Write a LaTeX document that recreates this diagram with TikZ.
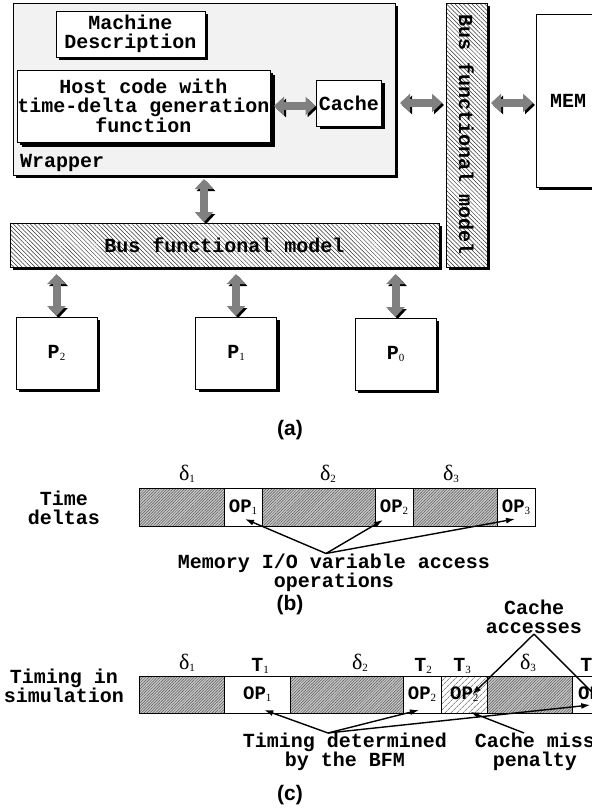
\documentclass[tikz,border=0pt]{standalone}
\usepackage{fontspec}
\setmainfont{Liberation Serif}
\setsansfont{Liberation Sans}
\setmonofont{Liberation Mono}
\usetikzlibrary{positioning}
\usetikzlibrary{arrows.meta}
\usetikzlibrary{shadows}
\usetikzlibrary{patterns.meta}

\newcommand{\monofont}{\ttfamily\bfseries\fontsize{20}{19}\selectfont}
\newcommand{\opfont}{\ttfamily\bfseries\fontsize{19}{19}\selectfont}
\newcommand{\subnum}[1]{\raisebox{-2pt}{\rmfamily\mdseries\fontsize{11}{11}\selectfont #1}}
\newcommand{\dlt}[1]{{\rmfamily\mdseries\fontsize{22}{22}\selectfont δ\subnum{#1}}}

\tikzset{
  box/.style={draw, line width=0.8pt, fill=white, inner sep=0pt, outer sep=0pt,
    font=\monofont, align=center,
    drop shadow={shadow xshift=3pt, shadow yshift=-3pt, opacity=1, fill=black}},
  wrapbox/.style={box, preaction={fill=white},
    pattern={Dots[distance=2pt, radius=0.45pt]}, pattern color=black!60},
  busbox/.style={box, preaction={fill=white},
    pattern={Lines[angle=-45, distance=3pt, line width=0.5pt]}, pattern color=black!80},
  fatarrow/.style={line width=8pt, draw=black!50,
    {Triangle[width=18pt, length=10pt]}-{Triangle[width=18pt, length=10pt]},
    preaction={draw=black, transform canvas={shift={(2pt,-2pt)}}}},
  cell/.style={draw, line width=0.8pt, inner sep=0pt, outer sep=0pt, font=\opfont},
  deltacell/.style={cell, preaction={fill=black!22},
    pattern={Lines[angle=45, distance=2pt, line width=0.5pt]}, pattern color=black!65},
  misscell/.style={cell, preaction={fill=white},
    pattern={Lines[angle=45, distance=4pt, line width=0.5pt]}, pattern color=black!70},
  pointer/.style={-{Latex[length=9pt, width=6pt]}, line width=1.4pt},
  note/.style={font=\monofont, align=center, inner sep=0pt},
  caption/.style={font=\sffamily\bfseries\fontsize{21}{21}\selectfont, inner sep=0pt},
}

\begin{document}
\begin{tikzpicture}[x=1pt, y=-1pt]
\useasboundingbox (0,0) rectangle (592,809);
\clip (0,0) rectangle (592,809);

% (a) the simulation model
\node[wrapbox, minimum width=382pt, minimum height=172pt] (wrapper) at (204,89) {};
\node[box, minimum width=149pt, minimum height=46pt] (machine) at (130.5,34) {Machine\\Description};
\node[box, minimum width=253pt, minimum height=72pt,
  drop shadow={shadow xshift=5pt, shadow yshift=-5pt, opacity=1, fill=black}] (host) at (143.5,106)
  {Host code with\\time-delta generation\\function};
\node[box, minimum width=65pt, minimum height=46pt] (cache) at (349,103) {Cache};
\node[note, anchor=west] (wraplabel) at (20,163) {Wrapper};

\node[busbox, minimum width=41pt, minimum height=264pt] (vbus) at (466.5,135) {};
\node[note, rotate=-90] (vbuslabel) at (vbus) {Bus functional model};
\node[box, minimum width=64pt, minimum height=173pt] (mem) at (568,100.5) {MEM};

\node[busbox, minimum width=429pt, minimum height=44pt] (hbus) at (224.5,245) {Bus functional model};
\node[box, minimum width=81pt, minimum height=72pt] (ptwo) at (56.5,353) {P\subnum{2}};
\node[box, minimum width=81pt, minimum height=72pt] (pone) at (236,353) {P\subnum{1}};
\node[box, minimum width=81pt, minimum height=72pt] (pzero) at (395.5,354) {P\subnum{0}};

\draw[fatarrow, shorten <=4pt, shorten >=1pt] (host.east) -- (host.east -| cache.west);
\draw[fatarrow, shorten <=5pt, shorten >=4pt] (cache.east -| wrapper.east) -- (cache.east -| vbus.west);
\draw[fatarrow, shorten <=4pt, shorten >=3pt] (cache.east -| vbus.east) -- (cache.east -| mem.west);
\draw[fatarrow, shorten <=4pt, shorten >=1pt] (wrapper.south) -- (wrapper.south |- hbus.north);
\foreach \p in {ptwo, pone, pzero}
  \draw[fatarrow, shorten <=7pt, shorten >=1pt] (\p.north |- hbus.south) -- (\p.north);

\node[caption] (capa) at (290,430) {(a)};

% (b) time deltas
\node[note] (timedeltas) at (64,507.5) {Time\\deltas};
\node[deltacell, minimum width=85pt, minimum height=38pt] (bdone) at (181.5,507) {};
\node[cell, minimum width=38pt, minimum height=38pt] (bopone) at (243,507) {OP\subnum{1}};
\node[deltacell, minimum width=113pt, minimum height=38pt] (bdtwo) at (318.5,507) {};
\node[cell, minimum width=38pt, minimum height=38pt] (boptwo) at (394,507) {OP\subnum{2}};
\node[deltacell, minimum width=84pt, minimum height=38pt] (bdthree) at (455,507) {};
\node[cell, minimum width=38pt, minimum height=38pt] (bopthree) at (516,507) {OP\subnum{3}};
\node (bdlone) at (187,474) {\dlt{1}};
\node (bdltwo) at (328,474) {\dlt{2}};
\node (bdlthree) at (451,474) {\dlt{3}};

\node[note] (memaccess) at (334,572.5) {Memory I/O variable access\\operations};
\draw[pointer] ([xshift=-8pt]memaccess.north) -- ([shift={(2pt,7pt)}]bopone.south);
\draw[pointer] ([xshift=-8pt]memaccess.north) -- ([shift={(8pt,6pt)}]boptwo.south west);
\draw[pointer] ([xshift=-8pt]memaccess.north) -- ([shift={(-1pt,7pt)}]bopthree.south);

\node[caption] (capb) at (290,605) {(b)};

% (c) timing in simulation
\node[note] (timingsim) at (64,686) {Timing in\\simulation};
\node[deltacell, minimum width=85.5pt, minimum height=37pt] (cdone) at (181.75,694.5) {};
\node[cell, minimum width=65.5pt, minimum height=37pt] (ctone) at (257.25,694.5) {OP\subnum{1}};
\node[deltacell, minimum width=113pt, minimum height=37pt] (cdtwo) at (346.5,694.5) {};
\node[cell, minimum width=38pt, minimum height=37pt] (cttwo) at (422,694.5) {OP\subnum{2}};
\node[misscell, minimum width=46.5pt, minimum height=37pt] (ctthree) at (464.25,694.5) {OP\subnum{2}};
\node[deltacell, minimum width=85pt, minimum height=37pt] (cdthree) at (530,694.5) {};
\node[cell, minimum width=39.5pt, minimum height=37pt] (ctfour) at (592.25,694.5) {OP\subnum{3}};

\node (cdlone) at (187,663) {\dlt{1}};
\node[font=\monofont] (clone) at (260,666) {T\subnum{1}};
\node (cdltwo) at (360,663) {\dlt{2}};
\node[font=\monofont] (cltwo) at (423,666) {T\subnum{2}};
\node[font=\monofont] (clthree) at (462,666) {T\subnum{3}};
\node (cdlthree) at (528,663) {\dlt{3}};
\node[font=\monofont] (clfour) at (589,666) {T\subnum{4}};

\node[note] (accesses) at (534,617) {Cache\\accesses};
\node[note] (bfm) at (345,752) {Timing determined\\by the BFM};
\node[note] (miss) at (535,752) {Cache miss\\penalty};

\draw[pointer] (accesses.south) -- ([xshift=8pt]ctthree.center);
\draw[pointer] (accesses.south) -- ([shift={(8pt,-6pt)}]ctfour.center);
\draw[pointer] ([xshift=-17pt]bfm.north) -- ([shift={(7pt,3pt)}]ctone.south);
\draw[pointer] ([xshift=-17pt]bfm.north) -- ([shift={(-3pt,3pt)}]cttwo.south);
\draw[pointer] ([xshift=-17pt]bfm.north) -- ([shift={(-2pt,8pt)}]ctfour.south);
\draw[pointer] ([xshift=-11pt]miss.north) -- ([shift={(6pt,1pt)}]ctthree.south);

\node[caption] (capc) at (290,795) {(c)};
\end{tikzpicture}
\end{document}
